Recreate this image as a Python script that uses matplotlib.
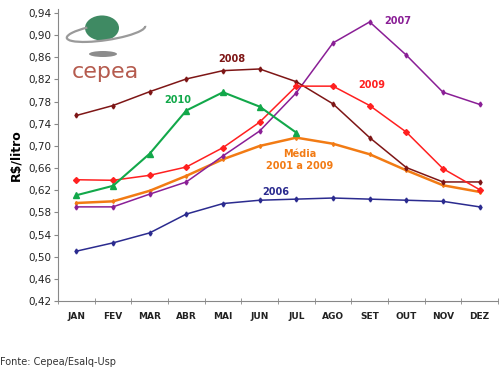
import matplotlib
matplotlib.use('Agg')
import matplotlib.pyplot as plt
from matplotlib.patches import Circle, Ellipse, Arc

# monthly prices, R$/litro
months = ['JAN', 'FEV', 'MAR', 'ABR', 'MAI', 'JUN', 'JUL', 'AGO', 'SET', 'OUT', 'NOV', 'DEZ']
p2006 = [0.510, 0.525, 0.543, 0.577, 0.596, 0.602, 0.604, 0.606, 0.604, 0.602, 0.600, 0.590]
p2007 = [0.590, 0.590, 0.613, 0.635, 0.682, 0.727, 0.796, 0.886, 0.924, 0.864, 0.797, 0.775]
p2008 = [0.755, 0.773, 0.798, 0.821, 0.836, 0.839, 0.816, 0.776, 0.715, 0.661, 0.635, 0.635]
p2009 = [0.639, 0.638, 0.647, 0.662, 0.697, 0.743, 0.808, 0.808, 0.773, 0.725, 0.659, 0.621]
p2010 = [0.611, 0.628, 0.686, 0.764, 0.797, 0.771, 0.724]
media = [0.597, 0.600, 0.619, 0.646, 0.676, 0.700, 0.715, 0.704, 0.685, 0.656, 0.629, 0.617]

fig = plt.figure(figsize=(4.99, 3.68), dpi=100)
ax = fig.add_axes([0.1162, 0.182, 0.8818, 0.7946])

x = list(range(12))
ax.plot(x, p2006, color='#2B2B8F', lw=1.1, marker='d', ms=2.5)
ax.plot(x, media, color='#F27B14', lw=1.8, marker='d', ms=2)
ax.plot(x, p2007, color='#8A1F96', lw=1.1, marker='d', ms=2.5)
ax.plot(x, p2008, color='#7E1616', lw=1.1, marker='d', ms=2.5)
ax.plot(x, p2009, color='#FF2020', lw=1.1, marker='D', ms=3)
ax.plot(range(len(p2010)), p2010, color='#12A84A', lw=1.5, marker='^', ms=4)

ax.set_xlim(-0.5, 11.5)
ax.set_ylim(0.42, 0.948)
yt = [0.42 + 0.04 * i for i in range(14)]
ax.set_yticks(yt)
ax.set_yticklabels([('%.2f' % v).replace('.', ',') for v in yt], fontsize=7.5, color='#222222')
ax.set_xticks(x)
ax.set_xticklabels(months, fontsize=6.5, fontweight='bold', color='#222222')
ax.set_xticks([i - 0.5 for i in range(13)], minor=True)
ax.tick_params(axis='x', which='major', length=0, pad=8)
ax.tick_params(axis='x', which='minor', length=4, direction='inout', color='#888888')
ax.tick_params(axis='y', length=3, color='#888888', pad=2)
for s in ['top', 'right']:
    ax.spines[s].set_visible(False)
for s in ['left', 'bottom']:
    ax.spines[s].set_color('#888888')
ax.set_ylabel('R$/litro', fontsize=9, fontweight='bold', labelpad=4)

# series labels
lab = dict(fontsize=7, fontweight='bold', ha='center', va='center')
ax.text(4.24, 0.857, '2008', color='#7E1616', **lab)
ax.text(2.77, 0.783, '2010', color='#12A84A', **lab)
ax.text(8.77, 0.926, '2007', color='#8A1F96', **lab)
ax.text(8.06, 0.810, '2009', color='#FF2020', **lab)
ax.text(6.10, 0.675, 'Média\n2001 a 2009', color='#F27B14', linespacing=1.2, **lab)
ax.text(5.44, 0.617, '2006', color='#2B2B8F', **lab)

# logo (rough)
W, H = 499.0, 368.0
fig.add_artist(Circle((102 / W, 1 - 28 / H), 17 / W, transform=fig.transFigure,
                      fc='#3F8A63', ec='none'))
fig.add_artist(Arc((106 / W, 1 - 32 / H), 80 / W, 16 / H, angle=12, theta1=150, theta2=360,
                   transform=fig.transFigure, ec='#9A9A9A', lw=1.6))
fig.add_artist(Ellipse((103 / W, 1 - 54 / H), 28 / W, 6 / H,
                       transform=fig.transFigure, fc='#8C8C8C', ec='none'))
fig.text(105 / W, 1 - 72 / H, 'cepea', color='#B55B4E', fontsize=16,
         ha='center', va='center', family='DejaVu Sans')

fig.text(0.0, 1 - 362 / H, 'Fonte: Cepea/Esalq-Usp', fontsize=7, color='#333333',
         va='center')

fig.savefig('out.png', dpi=100)
